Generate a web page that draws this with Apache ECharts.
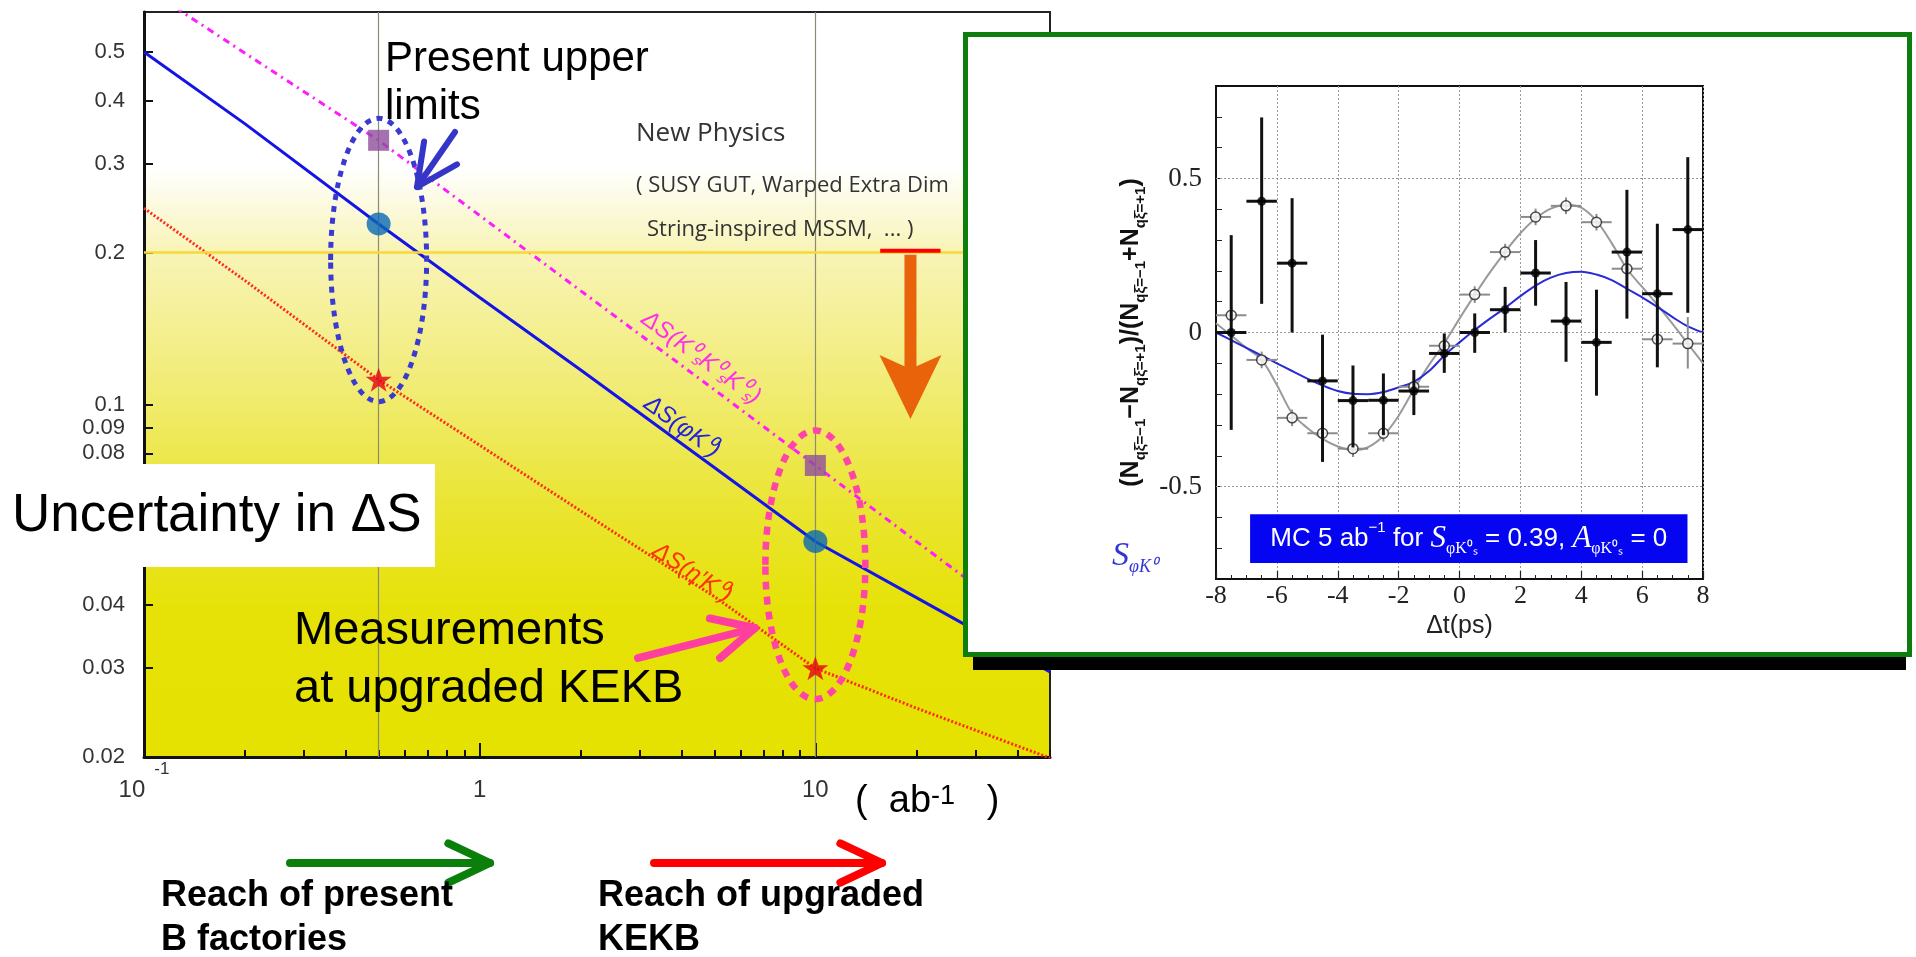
<!DOCTYPE html>
<html>
<head>
<meta charset="utf-8">
<script src="https://cdn.jsdelivr.net/npm/echarts@6.0.0/dist/echarts.min.js"></script>
<style>
html, body { margin: 0; padding: 0; background: #fff; overflow: hidden; }
#main { position: absolute; left: 0; top: 0; width: 1916px; height: 957px; }
#inset { position: absolute; left: 963px; top: 32px; width: 949px; height: 625px; box-sizing: border-box;
         border: 5px solid #0d7d0d; background: #fff; box-shadow: 2px 21px 0 -8px #000; }
</style>
</head>
<body>
<div id="main"></div>
<div id="inset"></div>
<script>
// ---- left panel: uncertainty of dS vs integrated luminosity (ab^-1) ----
var lumi      = [0.1, 0.2, 0.5, 1, 2, 5, 10, 20, 50];
var dsPhiK0   = [0.5, 0.36, 0.228, 0.163, 0.117, 0.075, 0.0535, 0.0414, 0.0295];
var dsKsKsKs  = [0.673, 0.497, 0.334, 0.237, 0.168, 0.107, 0.0757, 0.0535, 0.034];
var dsEtaK0   = [0.245, 0.176, 0.112, 0.083, 0.0615, 0.0416, 0.030, 0.025, 0.0199];
// highlighted points: present (0.5 ab-1) and upgraded KEKB (10 ab-1)
var markLumi    = [0.5, 10];
var markKsKsKs  = [0.334, 0.0757];
var markPhiK0   = [0.228, 0.0535];
var markEtaK0   = [0.112, 0.030];
var npLevel     = 0.2;
var yTicks  = [0.02, 0.03, 0.04, 0.05, 0.06, 0.07, 0.08, 0.09, 0.1, 0.2, 0.3, 0.4, 0.5];
var xLabels = [0.1, 1, 10];
var xMinor  = [0.2, 0.3, 0.4, 0.5, 0.6, 0.7, 0.8, 0.9, 2, 3, 4, 5, 6, 7, 8, 9, 20, 30, 40, 50];
var xMajor  = [1, 10];

// ---- inset: asymmetry vs dt ----
var dt            = [-7.5, -6.5, -5.5, -4.5, -3.5, -2.5, -1.5, -0.5, 0.5, 1.5, 2.5, 3.5, 4.5, 5.5, 6.5, 7.5];
var asymFilled    = [0.0, 0.426, 0.225, -0.157, -0.221, -0.22, -0.19, -0.068, 0.0, 0.074, 0.193, 0.037, -0.032, 0.261, 0.126, 0.334];
var asymFilledHi  = [0.316, 0.698, 0.436, -0.007, -0.107, -0.133, -0.122, -0.003, 0.062, 0.148, 0.300, 0.164, 0.139, 0.463, 0.353, 0.569];
var asymFilledLo  = [-0.316, 0.093, 0.0, -0.42, -0.373, -0.333, -0.268, -0.131, -0.066, 0.0, 0.087, -0.095, -0.205, 0.045, -0.113, 0.064];
var asymOpen      = [0.056, -0.089, -0.277, -0.327, -0.377, -0.327, -0.176, -0.043, 0.123, 0.261, 0.375, 0.411, 0.358, 0.207, -0.022, -0.036];
var asymOpenHi    = [0.084, -0.062, -0.25, -0.3, -0.35, -0.3, -0.148, -0.015, 0.15, 0.288, 0.402, 0.438, 0.385, 0.237, 0.05, 0.05];
var asymOpenLo    = [0.028, -0.116, -0.304, -0.354, -0.404, -0.354, -0.204, -0.071, 0.096, 0.234, 0.348, 0.384, 0.331, 0.177, -0.09, -0.117];
var fitT    = [-8, -7.5, -7, -6.5, -6, -5.5, -5, -4.5, -4, -3.5, -3, -2.5, -2, -1.5, -1, -0.5, 0, 0.5, 1, 1.5, 2, 2.5, 3, 3.5, 4, 4.5, 5, 5.5, 6, 6.5, 7, 7.5, 8];
var fitGray = [0.03, -0.01, -0.05, -0.089, -0.17, -0.262, -0.31, -0.345, -0.37, -0.382, -0.372, -0.335, -0.27, -0.185, -0.105, -0.035, 0.045, 0.122, 0.195, 0.262, 0.322, 0.37, 0.402, 0.415, 0.405, 0.362, 0.29, 0.207, 0.148, 0.09, 0.028, -0.036, -0.1];
var fitBlue = [0, -0.025, -0.05, -0.075, -0.1, -0.125, -0.15, -0.172, -0.19, -0.199, -0.2, -0.193, -0.178, -0.16, -0.125, -0.075, -0.032, 0.008, 0.045, 0.08, 0.118, 0.152, 0.178, 0.193, 0.197, 0.188, 0.17, 0.142, 0.114, 0.083, 0.05, 0.02, 0];
var insetYLabels = [-0.5, 0, 0.5];
var insetYTicks  = [-0.7, -0.6, -0.5, -0.4, -0.3, -0.2, -0.1, 0, 0.1, 0.2, 0.3, 0.4, 0.5, 0.6, 0.7];

function pairs(xs, ys) {
    return xs.map(function (x, i) { return [x, ys[i]]; });
}
function errRows(xs, ys, lo, hi) {
    return xs.map(function (x, i) { return [x, ys[i], lo[i], hi[i]]; });
}

var SANS = '"Liberation Sans", Arial, sans-serif';
var SERIF = '"Liberation Serif", "Times New Roman", serif';
var STAR = 'path://M50 0 L61.8 35.1 L98.1 35.1 L68.7 56.8 L79.4 91.9 L50 70.2 L20.6 91.9 L31.3 56.8 L1.9 35.1 L38.2 35.1 Z';

var chart = echarts.init(document.getElementById('main'));

var option = {
    animation: false,
    grid: {
        left: 144, top: 12, width: 906, height: 745,
        show: true, borderColor: '#222', borderWidth: 2, outerBoundsMode: 'none',
        backgroundColor: {
            type: 'linear', x: 0, y: 0, x2: 0, y2: 1,
            colorStops: [
                {offset: 0, color: '#ffffff'},
                {offset: 0.21, color: '#ffffff'},
                {offset: 0.32, color: '#f8f4b8'},
                {offset: 0.5, color: '#f1ec76'},
                {offset: 0.66, color: '#eae532'},
                {offset: 0.8, color: '#e6e208'},
                {offset: 1, color: '#e5e100'}
            ]
        }
    },
    xAxis: [
        {
            type: 'log', logBase: 10, min: 0.1, max: 50, position: 'bottom',
            axisLine: {show: true, onZero: false, lineStyle: {color: '#111', width: 3}},
            axisTick: {show: true, inside: true, length: 7, customValues: xMinor, lineStyle: {color: '#111', width: 2}},
            minorTick: {show: false},
            splitLine: {show: false},
            axisLabel: {
                show: true, customValues: xLabels, margin: 4,
                formatter: function (v) {
                    if (v < 0.5) return '{b|10}{sup|-1}';
                    return v > 5 ? '{b|10}' : '{b|1}';
                },
                rich: {
                    b: {fontFamily: SANS, fontSize: 24, lineHeight: 58, verticalAlign: 'middle', color: '#333'},
                    sup: {fontFamily: SANS, fontSize: 17, lineHeight: 17, verticalAlign: 'top', color: '#333', padding: [0, 0, 0, 9]}
                }
            }
        },
        {
            type: 'log', logBase: 10, min: 0.1, max: 50, position: 'bottom',
            axisLine: {show: false},
            axisTick: {show: true, inside: true, length: 14, customValues: xMajor, lineStyle: {color: '#111', width: 2}},
            axisLabel: {show: false},
            splitLine: {show: false}
        }
    ],
    yAxis: [
        {
            type: 'log', logBase: 10, min: 0.02, max: 0.6,
            axisLine: {show: true, onZero: false, lineStyle: {color: '#111', width: 3}},
            axisTick: {show: true, inside: true, length: 9, customValues: yTicks, lineStyle: {color: '#111', width: 2}},
            splitLine: {show: false},
            axisLabel: {
                customValues: yTicks, margin: 19,
                fontFamily: SANS, fontSize: 22, color: '#333',
                formatter: function (v) { return String(parseFloat(Number(v).toFixed(2))); }
            }
        },
        {
            type: 'log', logBase: 10, min: 0.02, max: 0.6,
            axisLine: {show: false},
            axisTick: {show: true, inside: true, length: 18, customValues: [0.1], lineStyle: {color: '#111', width: 2}},
            axisLabel: {show: false},
            splitLine: {show: false}
        }
    ],
    series: [
        {
            name: 'etaK0', type: 'line', data: pairs(lumi, dsEtaK0), symbol: 'none', z: 2,
            lineStyle: {color: '#ff2a1a', width: 3, type: [2, 2]},
            markLine: {
                silent: true, symbol: ['none', 'none'], label: {show: false},
                data: [
                    {xAxis: markLumi[0], lineStyle: {color: '#8c8c72', width: 1.2, type: 'solid'}},
                    {xAxis: markLumi[1], lineStyle: {color: '#8c8c72', width: 1.2, type: 'solid'}},
                    {yAxis: npLevel, lineStyle: {color: '#f7d836', width: 2.5, type: 'solid'}}
                ]
            }
        },
        {
            name: 'KsKsKs', type: 'line', data: pairs(lumi, dsKsKsKs), symbol: 'none', z: 3,
            lineStyle: {color: '#ff1cff', width: 3, type: [7, 5, 2, 5]}
        },
        {
            name: 'phiK0', type: 'line', data: pairs(lumi, dsPhiK0), symbol: 'none', z: 3,
            lineStyle: {color: '#1414e6', width: 3}
        },
        {
            type: 'scatter', data: pairs(markLumi, markKsKsKs), symbol: 'rect', symbolSize: 21, z: 5,
            itemStyle: {color: '#8e4f9c'}
        },
        {
            type: 'scatter', data: pairs(markLumi, markPhiK0), symbol: 'circle', symbolSize: [24, 23], z: 5,
            itemStyle: {color: '#0a68b4'}
        },
        {
            type: 'scatter', data: pairs(markLumi, markEtaK0), symbol: STAR, symbolSize: [26, 24], z: 5,
            itemStyle: {color: '#e60012'}
        }
    ]
};
chart.setOption(option);

// annotations placed from the axes
function px(x, y) { return chart.convertToPixel({xAxisIndex: 0, yAxisIndex: 0}, [x, y]); }

function chevronArrow(x1, y1, x2, y2, color, w, head, spread) {
    var ang = Math.atan2(y1 - y2, x1 - x2);
    var p1 = [x2 + head * Math.cos(ang - spread), y2 + head * Math.sin(ang - spread)];
    var p2 = [x2 + head * Math.cos(ang + spread), y2 + head * Math.sin(ang + spread)];
    return [
        {type: 'line', z: 60, shape: {x1: x1, y1: y1, x2: x2, y2: y2}, style: {stroke: color, lineWidth: w, lineCap: 'round'}},
        {type: 'polyline', z: 60, shape: {points: [p1, [x2, y2], p2]}, style: {stroke: color, fill: 'none', lineWidth: w, lineCap: 'round', lineJoin: 'round'}}
    ];
}
function label(x, y, text, font, color, extra) {
    var st = {text: text, font: font, fill: color, align: 'left', textAlign: 'left', verticalAlign: 'middle', textVerticalAlign: 'middle'};
    if (extra) for (var k in extra) st[k] = extra[k];
    return {type: 'text', x: x, y: y, z: 80, style: st};
}

var g = [];

// dotted ellipses round the two sets of points
var sq0 = px(markLumi[0], markKsKsKs[0]), st0 = px(markLumi[0], markEtaK0[0]);
var sq1 = px(markLumi[1], markKsKsKs[1]), st1 = px(markLumi[1], markEtaK0[1]);
g.push({type: 'ellipse', z: 40, shape: {cx: sq0[0], cy: (sq0[1] + st0[1]) / 2, rx: 48, ry: (st0[1] - sq0[1]) / 2 + 22},
        style: {fill: 'none', stroke: '#3a3ad0', lineWidth: 5, lineDash: [6, 6]}});
g.push({type: 'ellipse', z: 40, shape: {cx: sq1[0], cy: (sq1[1] + st1[1]) / 2 - 2, rx: 50, ry: (st1[1] - sq1[1]) / 2 + 33},
        style: {fill: 'none', stroke: '#ff45a8', lineWidth: 6.5, lineDash: [8, 7]}});

// new-physics level marker and orange arrow
var r1 = px(15.6, npLevel), r2 = px(23.6, npLevel);
g.push({type: 'line', z: 45, shape: {x1: r1[0], y1: r1[1] - 2, x2: r2[0], y2: r2[1] - 2}, style: {stroke: '#ff0000', lineWidth: 4}});
var oTop = px(19.2, npLevel), oTip = px(19.2, 0.0936);
var cx = oTop[0], wingY = oTip[1] - 64, notchY = oTip[1] - 50;
g.push({type: 'rect', z: 45, shape: {x: cx - 6, y: oTop[1] + 2, width: 12, height: notchY - oTop[1]}, style: {fill: '#e8630a'}});
g.push({type: 'polygon', z: 45, shape: {points: [[cx, oTip[1]], [cx - 31, wingY], [cx, notchY], [cx + 31, wingY]]}, style: {fill: '#e8630a'}});

// texts in the plot
g.push(label(385, 35, 'Present upper\nlimits', '42px ' + SANS, '#000', {verticalAlign: 'top', textVerticalAlign: 'top', lineHeight: 48}));
g = g.concat(chevronArrow(455, 132, 417, 187, '#3535c8', 6, 46, 0.45));
g.push(label(636, 134, 'New Physics', '26px "Open Sans", sans-serif', '#333'));
g.push(label(636, 186, '( SUSY GUT, Warped Extra Dim', '22px "Open Sans", sans-serif', '#333'));
g.push(label(647, 230, 'String-inspired MSSM,  ... )', '22px "Open Sans", sans-serif', '#333'));

g.push({type: 'text', x: 701, y: 358, rotation: -0.63, z: 80,
        style: {text: 'ΔS(K⁰ₛK⁰ₛK⁰ₛ)', font: 'italic 24px ' + SANS, fill: '#ff30e8', align: 'center', textAlign: 'center', verticalAlign: 'middle', textVerticalAlign: 'middle'}});
g.push({type: 'text', x: 682, y: 427, rotation: -0.63, z: 80,
        style: {text: 'ΔS(φK⁰)', font: 'italic 24px ' + SANS, fill: '#2222dd', align: 'center', textAlign: 'center', verticalAlign: 'middle', textVerticalAlign: 'middle'}});
g.push({type: 'text', x: 692, y: 573, rotation: -0.58, z: 80,
        style: {text: 'ΔS(η\u2032K⁰)', font: 'italic 24px ' + SANS, fill: '#ff3300', align: 'center', textAlign: 'center', verticalAlign: 'middle', textVerticalAlign: 'middle'}});

g.push(label(294, 631, 'Measurements', '47px ' + SANS, '#000'));
g.push(label(294, 689, 'at upgraded KEKB', '47px ' + SANS, '#000'));
g = g.concat(chevronArrow(638, 658, 755, 628, '#ff3fa0', 8, 46, 0.46));

// y-axis title box
g.push({type: 'rect', z: 90, shape: {x: 0, y: 464, width: 435, height: 103}, style: {fill: '#fff'}});
g.push({type: 'text', x: 12, y: 516, z: 91,
        style: {text: 'Uncertainty in ΔS', font: '53px ' + SANS, fill: '#000', align: 'left', textAlign: 'left', verticalAlign: 'middle', textVerticalAlign: 'middle'}});

// x unit
g.push({type: 'text', x: 855, y: 802, z: 80,
        style: {text: '(  ab{sup|-1}   )', font: '38px ' + SANS, fill: '#000', verticalAlign: 'middle', textVerticalAlign: 'middle',
                rich: {sup: {fontFamily: SANS, fontSize: 27, lineHeight: 22, verticalAlign: 'top', fill: '#000', color: '#000'}}}});

// reach arrows below the axis
g = g.concat(chevronArrow(290, 863, 490, 863, '#0a800a', 8, 46, 0.44));
g = g.concat(chevronArrow(654, 863, 882, 863, '#ff0000', 8, 46, 0.44));
g.push(label(161, 896, 'Reach of present', 'bold 36px ' + SANS, '#000'));
g.push(label(161, 940, 'B factories', 'bold 36px ' + SANS, '#000'));
g.push(label(598, 896, 'Reach of upgraded', 'bold 36px ' + SANS, '#000'));
g.push(label(598, 940, 'KEKB', 'bold 36px ' + SANS, '#000'));

chart.setOption({graphic: g});

// ---- inset chart ----
var inset = echarts.init(document.getElementById('inset'));

function errRenderer(color, w) {
    return function (params, api) {
        var x = api.value(0), y = api.value(1), lo = api.value(2), hi = api.value(3);
        var a = api.coord([x - 0.5, y]), b = api.coord([x + 0.5, y]);
        var c = api.coord([x, lo]), d = api.coord([x, hi]);
        return {
            type: 'group',
            children: [
                {type: 'line', shape: {x1: a[0], y1: a[1], x2: b[0], y2: b[1]}, style: {stroke: color, lineWidth: w}},
                {type: 'line', shape: {x1: c[0], y1: c[1], x2: d[0], y2: d[1]}, style: {stroke: color, lineWidth: w}}
            ]
        };
    };
}

var insetOption = {
    animation: false,
    grid: {left: 248, top: 49, width: 487, height: 493, show: true, borderColor: '#111', borderWidth: 2,
           backgroundColor: '#fff', outerBoundsMode: 'none'},
    xAxis: {
        type: 'value', min: -8, max: 8, interval: 2,
        axisLine: {show: true, onZero: false, lineStyle: {color: '#111', width: 2}},
        axisTick: {show: true, inside: true, length: 8, lineStyle: {color: '#222', width: 1.2}},
        minorTick: {show: true, splitNumber: 4, length: 4, lineStyle: {color: '#222', width: 1}},
        axisLabel: {margin: 4, fontFamily: SERIF, fontSize: 26, color: '#222'},
        splitLine: {show: true, lineStyle: {color: '#9a9a9a', width: 1, type: [2, 2]}},
        name: 'Δt(ps)', nameLocation: 'middle', nameGap: 29,
        nameTextStyle: {fontFamily: SANS, fontSize: 25, color: '#222'}
    },
    yAxis: {
        type: 'value', min: -0.8, max: 0.8,
        axisLine: {show: true, onZero: false, lineStyle: {color: '#111', width: 2}},
        axisTick: {show: true, inside: true, length: 6, customValues: insetYTicks, lineStyle: {color: '#222', width: 1}},
        splitLine: {show: false},
        axisLabel: {
            customValues: insetYLabels, margin: 14, fontFamily: SERIF, fontSize: 27, color: '#222',
            formatter: function (v) { return v === 0 ? '0' : Number(v).toFixed(1); }
        },
        name: '(N{s|qξ̄=−1}−N{s|qξ̄=+1})/(N{s|qξ̄=−1}+N{s|qξ̄=+1})',
        nameLocation: 'middle', nameRotate: 90, nameGap: 47,
        nameTextStyle: {
            fontFamily: SANS, fontWeight: 'bold', fontSize: 25, lineHeight: 34, color: '#111',
            rich: {s: {fontFamily: SANS, fontWeight: 'bold', fontSize: 15, lineHeight: 15, verticalAlign: 'bottom', color: '#111'}}
        }
    },
    graphic: [
        {type: 'text', x: 144, y: 519,
         style: {text: '{s|S}{b|φK⁰}', verticalAlign: 'middle', textVerticalAlign: 'middle',
                 rich: {
                     s: {fontFamily: SERIF, fontStyle: 'italic', fontSize: 34, lineHeight: 40, verticalAlign: 'middle', fill: '#3434d4', color: '#3434d4'},
                     b: {fontFamily: SERIF, fontStyle: 'italic', fontSize: 18, lineHeight: 16, verticalAlign: 'bottom', fill: '#3434d4', color: '#3434d4'}
                 }}}
    ],
    series: [
        {
            type: 'line', data: pairs(fitT, fitGray), smooth: 0.35, symbol: 'none', z: 2,
            lineStyle: {color: '#9a9a9a', width: 2},
            markLine: {
                silent: true, symbol: ['none', 'none'], label: {show: false},
                lineStyle: {color: '#9a9a9a', width: 1, type: [2, 2]},
                data: insetYLabels.map(function (v) { return {yAxis: v}; })
            }
        },
        {
            type: 'line', data: pairs(fitT, fitBlue), smooth: 0.35, symbol: 'none', z: 3,
            lineStyle: {color: '#2a2ad6', width: 2},
            markArea: {
                silent: true,
                itemStyle: {color: '#0505f2'},
                label: {
                    show: true, position: 'inside', color: '#fff', fontFamily: SANS, fontSize: 26, lineHeight: 36,
                    formatter: 'MC 5 ab{sup|−1} for {cal|S}{sub|φK⁰ₛ} = 0.39, {cal|A}{sub|φK⁰ₛ} = 0',
                    rich: {
                        sup: {fontFamily: SANS, fontSize: 15, lineHeight: 15, verticalAlign: 'top', color: '#fff'},
                        sub: {fontFamily: SERIF, fontSize: 16, lineHeight: 16, verticalAlign: 'bottom', color: '#fff'},
                        cal: {fontFamily: SERIF, fontStyle: 'italic', fontSize: 31, lineHeight: 36, verticalAlign: 'middle', color: '#fff'}
                    }
                },
                data: [[{coord: [-6.88, -0.59]}, {coord: [7.49, -0.748]}]]
            }
        },
        {
            type: 'custom', renderItem: errRenderer('#8c8c8c', 2), z: 4,
            encode: {x: 0, y: 1}, data: errRows(dt, asymOpen, asymOpenLo, asymOpenHi)
        },
        {
            type: 'scatter', data: pairs(dt, asymOpen), symbol: 'circle', symbolSize: 10, z: 5,
            itemStyle: {color: '#fff', borderColor: '#222', borderWidth: 1.5}
        },
        {
            type: 'custom', renderItem: errRenderer('#111', 3), z: 6,
            encode: {x: 0, y: 1}, data: errRows(dt, asymFilled, asymFilledLo, asymFilledHi)
        },
        {
            type: 'scatter', data: pairs(dt, asymFilled), symbol: 'circle', symbolSize: 9, z: 7,
            itemStyle: {color: '#000'}
        }
    ]
};
inset.setOption(insetOption);
</script>
</body>
</html>
